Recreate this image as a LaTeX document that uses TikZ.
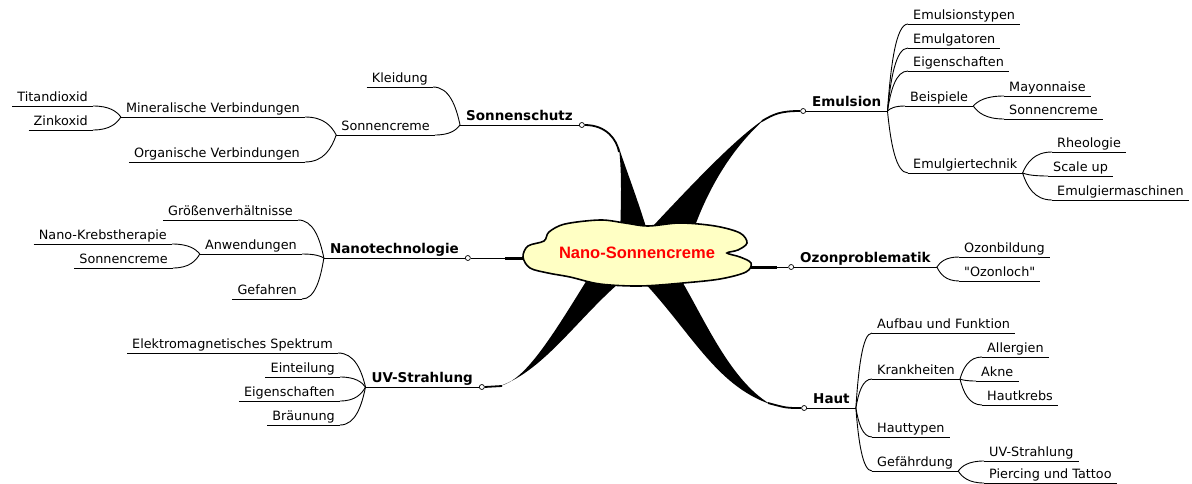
\documentclass[tikz,border=0pt]{standalone}
\usepackage{fontspec}
\setmainfont{DejaVu Sans}
\newfontfamily\hubfamily{Liberation Sans}
\usetikzlibrary{calc}
\definecolor{creme}{HTML}{FFFFC4}
\definecolor{signal}{HTML}{FF0000}
\newcommand{\leaffont}{\fontsize{12.8}{14}\selectfont}
\newcommand{\topicfont}{\fontsize{13.5}{15}\selectfont\bfseries}
\newcommand{\hubfont}{\hubfamily\fontsize{16.5}{18}\selectfont\bfseries}
% curved twig from a junction to the end of an underline
\newcommand{\twig}[2]{\draw[twig] (#1) .. controls ($0.5*(#1)+0.35*(#1|-#2)+0.15*(#2)$) and ($(#2)!0.6!(#1|-#2)$) .. (#2);}

\begin{document}
\begin{tikzpicture}[x=1pt,y=-1pt,
 leaf/.style={font=\leaffont,inner xsep=5pt,inner ysep=1.5pt,text height=9.5pt,text depth=3pt},
 topic/.style={font=\topicfont,inner xsep=6pt,inner ysep=1.5pt,text height=10pt,text depth=3pt},
 knob/.style={circle,draw,fill=white,line width=0.7pt,inner sep=0pt,minimum size=5pt},
 twig/.style={line width=0.9pt},
 stem/.style={line width=1.8pt}]
\useasboundingbox (0,0) rectangle (1192,484);
\fill[white] (0,0) rectangle (1192,484);
\coordinate (hub) at (637,253);

% main topics
\node[topic,anchor=south east] (sonn) at (579,125) {Sonnenschutz};
\node[topic,anchor=south east] (nano) at (465,258) {Nanotechnologie};
\node[topic,anchor=south east] (uv) at (479,387) {UV-Strahlung};
\node[topic,anchor=south west] (emu) at (806,111) {Emulsion};
\node[topic,anchor=south west] (ozon) at (794,267) {Ozonproblematik};
\node[topic,anchor=south west] (haut) at (807,408) {Haut};
\node[knob,anchor=west] (sonnk) at (sonn.south east) {};
\node[knob,anchor=west] (nanok) at (nano.south east) {};
\node[knob,anchor=west] (uvk) at (uv.south east) {};
\node[knob,anchor=east] (emuk) at (emu.south west) {};
\node[knob,anchor=east] (ozonk) at (ozon.south west) {};
\node[knob,anchor=east] (hautk) at (haut.south west) {};

% Sonnenschutz
\node[leaf,anchor=south east] (kleid) at (433,87) {Kleidung};
\node[leaf,anchor=south east] (scrA) at (435,135) {Sonnencreme};
\node[leaf,anchor=south east] (miner) at (305,117) {Mineralische Verbindungen};
\node[leaf,anchor=south east] (titan) at (93,106) {Titandioxid};
\node[leaf,anchor=south east] (zink) at (93,130) {Zinkoxid};
\node[leaf,anchor=south east] (organ) at (305,162) {Organische Verbindungen};
\twig{sonn.south west}{kleid.south east}
\twig{sonn.south west}{scrA.south east}
\twig{scrA.south west}{miner.south east}
\twig{scrA.south west}{organ.south east}
\twig{miner.south west}{titan.south east}
\twig{miner.south west}{zink.south east}

% Nanotechnologie
\node[leaf,anchor=south east] (gross) at (298,220) {Größenverhältnisse};
\node[leaf,anchor=south east] (anw) at (302,254) {Anwendungen};
\node[leaf,anchor=south east] (krebs) at (172,244) {Nano-Krebstherapie};
\node[leaf,anchor=south east] (scrB) at (173,268) {Sonnencreme};
\node[leaf,anchor=south east] (gef) at (302,299) {Gefahren};
\twig{nano.south west}{gross.south east}
\twig{nano.south west}{anw.south east}
\twig{nano.south west}{gef.south east}
\twig{anw.south west}{krebs.south east}
\twig{anw.south west}{scrB.south east}

% UV-Strahlung
\node[leaf,anchor=south east] (spek) at (338,353) {Elektromagnetisches Spektrum};
\node[leaf,anchor=south east] (eint) at (340,377) {Einteilung};
\node[leaf,anchor=south east] (eigA) at (340,401) {Eigenschaften};
\node[leaf,anchor=south east] (braun) at (340,425) {Bräunung};
\foreach \n in {spek,eint,eigA,braun} {\twig{uv.south west}{\n.south east}}

% Emulsion
\node[leaf,anchor=south west] (typ) at (908,24) {Emulsionstypen};
\node[leaf,anchor=south west] (gat) at (908,48) {Emulgatoren};
\node[leaf,anchor=south west] (eigB) at (908,71) {Eigenschaften};
\node[leaf,anchor=south west] (beisp) at (905,106) {Beispiele};
\node[leaf,anchor=south west] (tech) at (908,173) {Emulgiertechnik};
\node[leaf,anchor=south west] (mayo) at (1004,96) {Mayonnaise};
\node[leaf,anchor=south west] (scrC) at (1004,119) {Sonnencreme};
\node[leaf,anchor=south west] (rheo) at (1052,152) {Rheologie};
\node[leaf,anchor=south west] (scale) at (1048,176) {Scale up};
\node[leaf,anchor=south west] (masch) at (1052,200) {Emulgiermaschinen};
\foreach \n in {typ,gat,eigB,beisp,tech} {\twig{emu.south east}{\n.south west}}
\foreach \n in {mayo,scrC} {\twig{beisp.south east}{\n.south west}}
\foreach \n in {rheo,scale,masch} {\twig{tech.south east}{\n.south west}}

% Ozonproblematik
\node[leaf,anchor=south west] (ozb) at (959,257) {Ozonbildung};
\node[leaf,anchor=south west] (ozl) at (959,281) {\textquotedbl Ozonloch\textquotedbl};
\foreach \n in {ozb,ozl} {\twig{ozon.south east}{\n.south west}}

% Haut
\node[leaf,anchor=south west] (aufbau) at (872,333) {Aufbau und Funktion};
\node[leaf,anchor=south west] (krank) at (872,379) {Krankheiten};
\node[leaf,anchor=south west] (htyp) at (872,437) {Hauttypen};
\node[leaf,anchor=south west] (gefahr) at (872,471) {Gefährdung};
\node[leaf,anchor=south west] (allerg) at (982,357) {Allergien};
\node[leaf,anchor=south west] (akne) at (976,381) {Akne};
\node[leaf,anchor=south west] (hkrebs) at (982,405) {Hautkrebs};
\node[leaf,anchor=south west] (uvB) at (984,461) {UV-Strahlung};
\node[leaf,anchor=south west] (pierc) at (984,483) {Piercing und Tattoo};
\foreach \n in {aufbau,krank,htyp,gefahr} {\twig{haut.south east}{\n.south west}}
\foreach \n in {allerg,akne,hkrebs} {\twig{krank.south east}{\n.south west}}
\foreach \n in {uvB,pierc} {\twig{gefahr.south east}{\n.south west}}

% underlines
\foreach \n in {sonn,nano,uv,emu,ozon,haut,kleid,scrA,miner,titan,zink,organ,gross,anw,krebs,scrB,gef,
  spek,eint,eigA,braun,typ,gat,eigB,beisp,tech,mayo,scrC,rheo,scale,masch,ozb,ozl,
  aufbau,krank,htyp,gefahr,allerg,akne,hkrebs,uvB,pierc}
  \draw[twig] (\n.south west) -- (\n.south east);

% thick stems from the hub
\draw[stem] (sonnk.east) .. controls +(22,0) and +(-2,-12) .. (619,152);
\fill (619,148) .. controls (622,175) and (621,200) .. (620,240) -- (650,240) .. controls (638,200) and (628,175) .. (619,148) -- cycle;
\draw[stem] (emuk.west) .. controls +(-20,0) and +(12,-7) .. (762,121);
\fill (766,118) .. controls (740,135) and (705,170) .. (640,240) -- (690,240) .. controls (708,185) and (735,145) .. (766,118) -- cycle;
\draw[stem] (uvk.east) .. controls +(8,0) .. (502,386);
\fill (500,386) .. controls (525,380) and (550,340) .. (590,275) -- (625,278) .. controls (580,315) and (545,370) .. (500,386) -- cycle;
\draw[stem] (hautk.west) .. controls +(-15,0) .. (768,403);
\fill (640,278) .. controls (690,330) and (715,385) .. (770,404) .. controls (730,380) and (705,320) .. (680,278) -- cycle;
\draw[twig] (nanok.east) -- (nanok.east -| hub);
\draw[line width=3pt] ($(nanok.east -| hub)+(-132,0)$) -- (nanok.east -| hub);
\draw[twig] (ozonk.west) -- (ozonk.west -| hub);
\draw[line width=3pt] ($(ozonk.west -| hub)+(140,0)$) -- (ozonk.west -| hub);

% hub cloud
\draw[line width=1.6pt,fill=creme] plot[smooth cycle,tension=0.55] coordinates {
  (523,257) (528,246) (544,241) (549,232) (565,224) (600,220) (625,223) (648,226)
  (680,223) (715,226) (740,233) (747,243) (738,250) (727,253) (740,257) (751,263)
  (746,272) (720,279) (683,283) (640,286) (600,284) (570,277) (548,273) (530,268)};
\node[font=\hubfont,text=signal] (root) at (hub) {Nano-Sonnencreme};
\end{tikzpicture}
\end{document}
